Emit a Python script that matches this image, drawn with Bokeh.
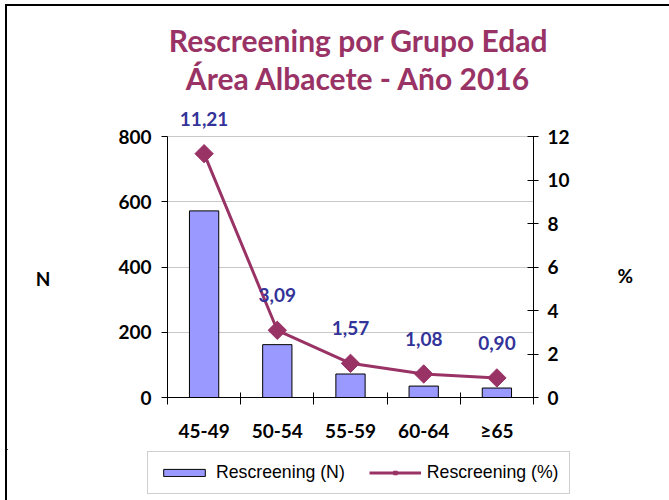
import math
from bokeh.plotting import figure
from bokeh.layouts import column
from bokeh.models import (Range1d, LinearAxis, FixedTicker, Legend, Label,
                          LegendItem, ColumnDataSource)
from bokeh.embed import file_html
from bokeh.resources import INLINE
from bokeh.core.properties import value

groups = ["45-49", "50-54", "55-59", "60-64", "≥65"]
rescreen_n = [572, 162, 72, 35, 29]
rescreen_pct = [11.21, 3.09, 1.57, 1.08, 0.90]
pct_labels = ["11,21", "3,09", "1,57", "1,08", "0,90"]
n_ticks = [0, 200, 400, 600, 800]
pct_ticks = [0, 2, 4, 6, 8, 10, 12]
title1 = "Rescreening por Grupo Edad"
title2 = "Área Albacete - Año 2016"
legend_labels = ["Rescreening (N)", "Rescreening (%)"]

PLUM = "#993366"
NAVY = "#333399"
BAR = "#9999FF"
FONT = "Lato"

xpos = [i + 0.5 for i in range(len(groups))]
src = ColumnDataSource(dict(x=xpos, n=rescreen_n, pct=rescreen_pct, lab=pct_labels))

# layout (pixels)
W, TH, H, LH = 662, 96, 347, 51
TOP, BOTTOM = 2, 52
AXIS_PX = 261.0                       # height of the 0..max-tick span
frame_px = H - TOP - BOTTOM
n_end = n_ticks[-1] * frame_px / AXIS_PX
pct_end = pct_ticks[-1] * frame_px / AXIS_PX


def bare_figure(height, xr, yr):
    f = figure(width=W, height=height, output_backend="svg", toolbar_location=None,
               x_range=xr, y_range=yr, min_border=0,
               x_axis_type=None, y_axis_type=None)
    f.frame_align = False
    f.outline_line_color = None
    f.xgrid.grid_line_color = None
    f.ygrid.grid_line_color = None
    return f


# ---- title strip (pixel coordinates, y downwards)
tf = bare_figure(TH, Range1d(0, W), Range1d(TH, 0))
for txt, ty in [(title1, 33), (title2, 71)]:
    tf.add_layout(Label(x=351, y=ty, text=txt, text_align="center",
                        text_baseline="middle", text_color=PLUM, text_font=FONT,
                        text_font_style="bold", text_font_size="30px"))

# ---- main chart
p = figure(width=W, height=H, output_backend="svg", toolbar_location=None,
           x_range=Range1d(0, len(groups)), y_range=Range1d(0, n_end),
           min_border_left=160, min_border_right=136, min_border_top=TOP,
           min_border_bottom=BOTTOM)
p.frame_align = False
p.extra_y_ranges = {"pct": Range1d(0, pct_end)}
p.outline_line_color = None
p.background_fill_color = "white"
p.border_fill_color = "white"


def style_labels(ax, standoff):
    ax.major_label_standoff = standoff
    ax.major_label_text_font = FONT
    ax.major_label_text_font_style = "bold"
    ax.major_label_text_font_size = "19px"
    ax.major_label_text_color = "black"


# bottom axis: ticks at category boundaries, labels at centres
xa = p.xaxis[0]
xa.ticker = FixedTicker(ticks=xpos, minor_ticks=list(range(len(groups) + 1)))
xa.major_label_overrides = {x: g for x, g in zip(xpos, groups)}
xa.major_tick_in = 0
xa.major_tick_out = 0
xa.minor_tick_in = 5
xa.minor_tick_out = 7
xa.minor_tick_line_color = "black"
xa.axis_line_color = "black"
style_labels(xa, 14)

ya = p.yaxis[0]
ya.ticker = FixedTicker(ticks=n_ticks)
ya.bounds = (n_ticks[0], n_ticks[-1])
ya.major_tick_in = 0
ya.major_tick_out = 6
ya.minor_tick_line_color = None
style_labels(ya, 10)

ra = LinearAxis(y_range_name="pct", ticker=FixedTicker(ticks=pct_ticks),
                bounds=(pct_ticks[0], pct_ticks[-1]))
ra.major_tick_in = 6
ra.major_tick_out = 5
ra.minor_tick_line_color = None
style_labels(ra, 9)
p.add_layout(ra, "right")

# axis names "N" and "%" drawn horizontally, as the reference does
N_AT, PCT_AT = 365, 5.6
na = LinearAxis(ticker=FixedTicker(ticks=[N_AT]), major_label_overrides={N_AT: "N"})
pa = LinearAxis(y_range_name="pct", ticker=FixedTicker(ticks=[PCT_AT]),
                major_label_overrides={PCT_AT: "%"})
for ax, so in [(na, 65), (pa, 45)]:
    ax.axis_line_color = None
    ax.major_tick_line_color = None
    ax.minor_tick_line_color = None
    ax.major_tick_out = 0
    ax.major_tick_in = 0
    style_labels(ax, so)
p.add_layout(na, "left")
p.add_layout(pa, "right")

p.xgrid.grid_line_color = None
p.ygrid.grid_line_color = "#c8c8c8"
p.ygrid.ticker = FixedTicker(ticks=n_ticks)

bar_style = dict(fill_color=BAR, line_color="black", line_width=1)
line_style = dict(line_color=PLUM, line_width=3)
mark_style = dict(marker="square", angle=math.pi / 4, fill_color=PLUM, line_color=PLUM)

p.vbar(x="x", top="n", bottom=0, width=0.4, source=src, **bar_style)
p.line("x", "pct", source=src, y_range_name="pct", **line_style)
p.scatter("x", "pct", source=src, y_range_name="pct", size=13, **mark_style)
p.text("x", "pct", text="lab", source=src, y_range_name="pct", y_offset=-35,
       text_align="center", text_baseline="middle", text_color=NAVY,
       text_font=value(FONT), text_font_style="bold", text_font_size="19px")

# ---- legend strip: same series, ranges far away so only the legend keys show
lf = bare_figure(LH, Range1d(1000, 1001), Range1d(-1001, -1000))
kb = lf.vbar(x="x", top="n", bottom=0, width=0.4, source=src, **bar_style)
kl = lf.line("x", "pct", source=src, **line_style)
km = lf.scatter("x", "pct", source=src, size=10, **mark_style)
legend = Legend(items=[LegendItem(label=legend_labels[0], renderers=[kb]),
                       LegendItem(label=legend_labels[1], renderers=[kl, km])],
                orientation="horizontal", location=(140, 6))
legend.label_text_font = "Liberation Sans"
legend.label_text_font_size = "17.7px"
legend.label_text_color = "black"
legend.glyph_width = 52
legend.glyph_height = 9
legend.label_standoff = 6
legend.spacing = 24
legend.padding = 10
legend.margin = 0
legend.border_line_color = "#a0a0a0"
legend.border_line_width = 1
legend.background_fill_color = "white"
legend.background_fill_alpha = 1
lf.add_layout(legend)

col = column(tf, p, lf, spacing=0)
col.styles = {"margin-left": "5px", "margin-top": "4px",
              "border-top": "2px solid black", "border-left": "2px solid black"}

open("out.html", "w").write(file_html(col, INLINE))
